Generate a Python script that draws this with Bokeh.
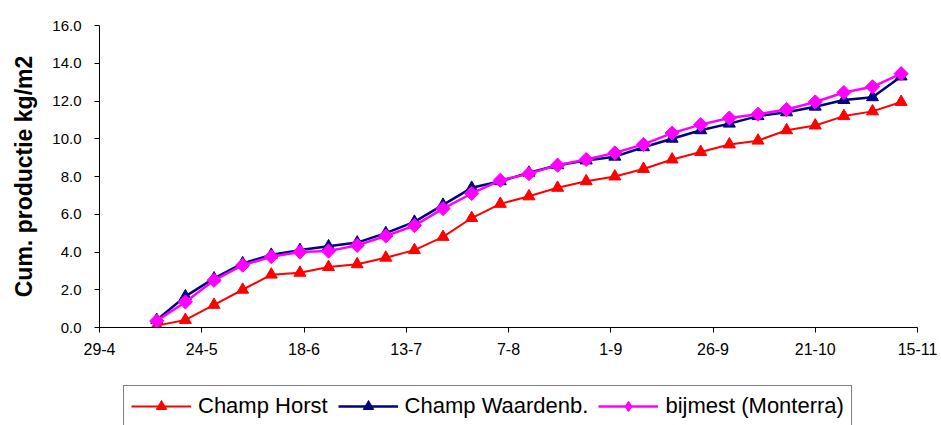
from datetime import datetime

from bokeh.embed import file_html
from bokeh.layouts import column
from bokeh.models import (FixedTicker, Legend, LegendItem, NumeralTickFormatter,
                          Range1d)
from bokeh.plotting import figure
from bokeh.resources import INLINE

# Harvest dates (day-month) and cumulative production (kg/m2)
dates = ["13-5", "20-5", "27-5", "3-6", "10-6", "17-6", "24-6", "1-7", "8-7",
         "15-7", "22-7", "29-7", "5-8", "12-8", "19-8", "26-8", "2-9", "9-9",
         "16-9", "23-9", "30-9", "7-10", "14-10", "21-10", "28-10", "4-11", "11-11"]

champ_horst = [0.1, 0.4, 1.2, 2.0, 2.8, 2.9, 3.2, 3.35, 3.7, 4.1, 4.8, 5.8, 6.55,
               6.95, 7.4, 7.75, 8.0, 8.4, 8.9, 9.3, 9.7, 9.9, 10.45, 10.7, 11.2,
               11.45, 11.95]
champ_waardenb = [0.4, 1.65, 2.6, 3.4, 3.85, 4.1, 4.3, 4.5, 5.0, 5.6, 6.5, 7.4,
                  7.75, 8.2, 8.6, 8.85, 9.05, 9.55, 10.0, 10.45, 10.8, 11.2, 11.4,
                  11.7, 12.05, 12.2, 13.3]
bijmest = [0.35, 1.35, 2.5, 3.3, 3.75, 4.0, 4.05, 4.35, 4.85, 5.4, 6.3, 7.1, 7.8,
           8.15, 8.6, 8.9, 9.25, 9.7, 10.3, 10.75, 11.1, 11.3, 11.55, 11.95,
           12.45, 12.75, 13.45]

tick_labels = ["29-4", "24-5", "18-6", "13-7", "7-8", "1-9", "26-9", "21-10", "15-11"]
y_ticks = [0, 2, 4, 6, 8, 10, 12, 14, 16]

YEAR = 2005


def to_day(s):
    return datetime.strptime(f"{s}-{YEAR}", "%d-%m-%Y")


origin = to_day(tick_labels[0])
x = [(to_day(d) - origin).days for d in dates]
tick_pos = [(to_day(t) - origin).days for t in tick_labels]

FONT = "Liberation Sans"

p = figure(width=941, height=380, output_backend="svg", toolbar_location=None,
           x_range=Range1d(tick_pos[0], tick_pos[-1]), y_range=Range1d(0, 16),
           min_border_left=99, min_border_right=24, min_border_top=25,
           min_border_bottom=53)
p.outline_line_color = None
p.grid.grid_line_color = None
p.background_fill_color = "white"
p.border_fill_color = "white"

# axes
p.xaxis.ticker = FixedTicker(ticks=tick_pos)
p.xaxis.major_label_overrides = {t: lab for t, lab in zip(tick_pos, tick_labels)}
p.yaxis.ticker = FixedTicker(ticks=y_ticks)
p.yaxis.formatter = NumeralTickFormatter(format="0.0")
for ax in (p.xaxis[0], p.yaxis[0]):
    ax.axis_line_color = "black"
    ax.major_tick_line_color = "black"
    ax.minor_tick_line_color = None
    ax.major_tick_in = 0
    ax.major_tick_out = 5
    ax.major_label_text_font = FONT
    ax.major_label_text_color = "black"
p.xaxis.major_label_text_font_size = "16px"
p.xaxis.major_label_standoff = 10
p.yaxis.major_label_text_font_size = "15px"
p.yaxis.major_label_standoff = 13
p.yaxis.axis_label = "Cum. productie kg/m2"
p.yaxis.axis_label_text_font = FONT
p.yaxis.axis_label_text_font_style = "bold"
p.yaxis.axis_label_text_font_size = "23px"
p.yaxis.axis_label_text_color = "black"
p.yaxis.axis_label_standoff = 12

# series: name, values, colour, marker, size, angle, line width, legend marker, legend size
series = [
    ("Champ Horst", champ_horst, "#FF0000", "triangle", 12, 0, 2, "triangle", 12),
    ("Champ Waardenb.", champ_waardenb, "#000080", "triangle", 12, 0, 2.5, "triangle", 12),
    ("bijmest (Monterra)", bijmest, "#FF00FF", "square", 10, 0.785398, 2.5, "diamond", 15),
]

# legend strip underneath the chart; its ranges keep the key glyphs' data out of view
leg = figure(width=941, height=45, output_backend="svg", toolbar_location=None,
             x_range=Range1d(-2, -1), y_range=Range1d(-2, -1),
             x_axis_location=None, y_axis_location=None, min_border=0)
leg.outline_line_color = None
leg.grid.visible = False
leg.background_fill_color = "white"
leg.border_fill_color = "white"

items = []
for name, ys, color, marker, size, angle, lw, kmarker, ksize in series:
    p.line(x, ys, line_color=color, line_width=lw)
    p.scatter(x, ys, marker=marker, size=size, angle=angle,
              fill_color=color, line_color=color)
    kl = leg.line(x, ys, line_color=color, line_width=lw)
    ks = leg.scatter(x, ys, marker=kmarker, size=ksize,
                     fill_color=color, line_color=color)
    items.append(LegendItem(label=name, renderers=[kl, ks]))

legend = Legend(items=items, orientation="horizontal", location=(24, -2),
                glyph_width=60, glyph_height=26, label_height=26,
                label_standoff=7, spacing=10, padding=7, margin=0,
                label_text_font=FONT, label_text_font_size="22px",
                label_text_color="black", border_line_color="black",
                border_line_width=1, background_fill_color="white",
                background_fill_alpha=1)
leg.add_layout(legend, "center")

layout = column(p, leg, spacing=0)
open("out.html", "w").write(file_html(layout, INLINE))
